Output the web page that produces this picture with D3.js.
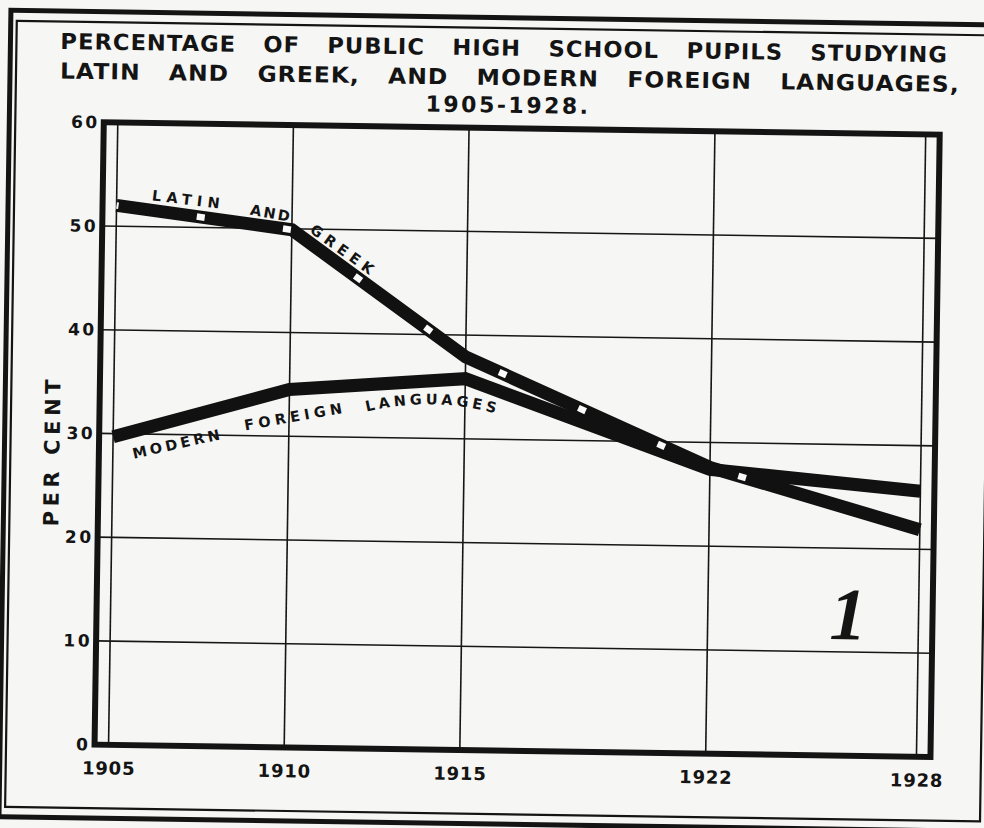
<!DOCTYPE html>
<html>
<head>
	<meta charset="UTF-8">
	<title>Percentage of public high school pupils studying Latin and Greek, and modern foreign languages, 1905-1928</title>
	<style>
		body {
			margin: 0;
			background: #f6f6f4;
		}
		svg {
			display: block;
		}
		text {
			font-family: "DejaVu Sans", "Liberation Sans", sans-serif;
			fill: #141414;
		}
		.title {
			font-weight: bold;
		}
		.grid {
			stroke: #161616;
			stroke-width: 1.6;
		}
		.frame {
			fill: none;
			stroke: #141414;
			stroke-width: 6;
		}
		.series {
			fill: none;
			stroke: #111;
			stroke-width: 13;
			stroke-linejoin: miter;
		}
		.tick text {
			font-weight: bold;
		}
		.word {
			font-weight: bold;
		}
		#figno {
			font-family: "Liberation Serif", "DejaVu Serif", serif;
			font-weight: bold;
			font-style: italic;
		}
	</style>
</head>
<body>

<svg id="chart" width="984" height="828"></svg>

<script src="https://d3js.org/d3.v7.min.js"></script>
<script>

	// Data
	let years = [1905, 1910, 1915, 1922, 1928];
	let latinGreek = [52.0, 49.9, 37.9, 27.6, 21.9];
	let modernForeign = [29.7, 34.5, 35.8, 27.4, 25.6];
	let yTicks = [0, 10, 20, 30, 40, 50, 60];
	let titleLines = [
		"PERCENTAGE OF PUBLIC HIGH SCHOOL PUPILS STUDYING",
		"LATIN AND GREEK, AND MODERN FOREIGN LANGUAGES,",
		"1905-1928."
	];
	let yTitle = "PER CENT";

	let svg = d3.select("#chart");

	// the scan is turned a little clockwise
	let g = svg.append("g")
		.attr("transform", "rotate(0.85, 492, 414)");

	// double border round the page
	g.append("rect")
		.attr("x", 5).attr("y", 17.5)
		.attr("width", 995).attr("height", 806.5)
		.attr("fill", "none").attr("stroke", "#141414").attr("stroke-width", 5);
	g.append("rect")
		.attr("x", 11).attr("y", 28)
		.attr("width", 975).attr("height", 786)
		.attr("fill", "none").attr("stroke", "#141414").attr("stroke-width", 2.2);

	// title, each line stretched to the width it has on the print
	function fitLine(txt, x0, baseline, width, ls, ws) {
		let t = g.append("text")
			.classed("title", true)
			.attr("font-size", 22)
			.attr("letter-spacing", ls)
			.attr("word-spacing", ws)
			.text(txt);
		let w = t.node().getBBox().width;
		t.attr("transform", "translate(" + x0 + "," + baseline + ") scale(" + (width / w) + ",1)");
	}
	fitLine(titleLines[0], 55, 55.5, 888, 1, 18);
	fitLine(titleLines[1], 55, 85, 900, 1, 18);
	fitLine(titleLines[2], 421, 112.5, 165, 2.5, 0);

	// scales
	let x = d3.scaleLinear().domain([1905, 1928]).range([113.5, 921.5]);
	let y = d3.scaleLinear().domain([0, 60]).range([750.5, 128]);
	let pad = 14;
	let left = x(1905) - pad,
		right = x(1928) + pad;

	// grid
	g.append("g")
		.selectAll("line")
		.data(yTicks.filter(d => d > 0 && d < 60))
		.enter()
		.append("line")
		.classed("grid", true)
		.attr("x1", left).attr("x2", right)
		.attr("y1", d => y(d)).attr("y2", d => y(d));

	g.append("g")
		.selectAll("line")
		.data(years)
		.enter()
		.append("line")
		.classed("grid", true)
		.attr("x1", d => x(d)).attr("x2", d => x(d))
		.attr("y1", y(60)).attr("y2", y(0));

	g.append("rect")
		.classed("frame", true)
		.attr("x", left).attr("y", y(60))
		.attr("width", right - left).attr("height", y(0) - y(60));

	// axes
	let xAxis = g.append("g")
		.attr("transform", "translate(0," + y(0) + ")")
		.call(d3.axisBottom(x).tickValues(years).tickSize(0).tickPadding(17).tickFormat(d3.format("d")));
	xAxis.select(".domain").remove();
	xAxis.selectAll("text")
		.attr("font-size", 18)
		.attr("letter-spacing", 0.8)
		.attr("fill", "#141414");

	let yAxis = g.append("g")
		.attr("transform", "translate(" + left + ",0)")
		.call(d3.axisLeft(y).tickValues(yTicks).tickSize(0).tickPadding(4));
	yAxis.select(".domain").remove();
	yAxis.selectAll("text")
		.attr("font-size", 17)
		.attr("letter-spacing", 2.5)
		.attr("fill", "#141414");

	g.append("text")
		.attr("transform", "translate(60," + 459.5 + ") rotate(-90)")
		.attr("text-anchor", "middle")
		.attr("font-size", 21)
		.attr("textLength", 147)
		.attr("lengthAdjust", "spacing")
		.style("font-weight", "bold")
		.text(yTitle);

	// series
	let line = d3.line()
		.x((d, i) => x(years[i]))
		.y(d => y(d));

	g.append("path")
		.datum(modernForeign)
		.classed("series", true)
		.attr("d", line);

	g.append("path")
		.datum(latinGreek)
		.classed("series", true)
		.attr("d", line);

	// the little white squares along the Latin line
	g.append("path")
		.datum(latinGreek)
		.attr("d", line)
		.attr("fill", "none")
		.attr("stroke", "#fafafa")
		.attr("stroke-width", 6.5)
		.attr("stroke-dasharray", "8 79 8 79 8 79 8 79 8 79 8 79 8 79 8 79 8 79 0 200")
		.attr("stroke-dashoffset", 6);

	// lettering on the lines: [word, year, value, angle, length]
	let wordLabels = [
		["LATIN", 1906.97, 52.7, 6, 68],
		["AND", 1909.37, 51.5, 9, 40],
		["GREEK", 1911.44, 48.1, 35, 74],
		["MODERN", 1906.79, 29.1, -13.5, 89],
		["FOREIGN", 1910.11, 31.9, -11, 99]
	];
	g.append("g")
		.selectAll("text")
		.data(wordLabels)
		.enter()
		.append("text")
		.classed("word", true)
		.attr("transform", d => "translate(" + x(d[1]) + "," + y(d[2]) + ") rotate(" + d[3] + ")")
		.attr("text-anchor", "middle")
		.attr("dy", "0.36em")
		.attr("font-size", 14.5)
		.attr("textLength", d => d[4])
		.attr("lengthAdjust", "spacing")
		.text(d => d[0]);

	// LANGUAGES bends a little
	let arc = d3.path();
	arc.moveTo(x(1912.2), y(32.5));
	arc.quadraticCurveTo(x(1914.1), y(34.1), x(1916.0), y(32.4));
	g.append("path").attr("id", "langArc").attr("d", arc.toString()).attr("fill", "none");
	g.append("text")
		.classed("word", true)
		.attr("font-size", 14.5)
		.append("textPath")
		.attr("href", "#langArc")
		.attr("textLength", 130)
		.attr("lengthAdjust", "spacing")
		.text("LANGUAGES");

	// figure number pencilled on the print
	g.append("text")
		.attr("id", "figno")
		.attr("x", 851).attr("y", 634)
		.attr("text-anchor", "middle")
		.attr("font-size", 74)
		.text("1");

</script>

</body>
</html>
